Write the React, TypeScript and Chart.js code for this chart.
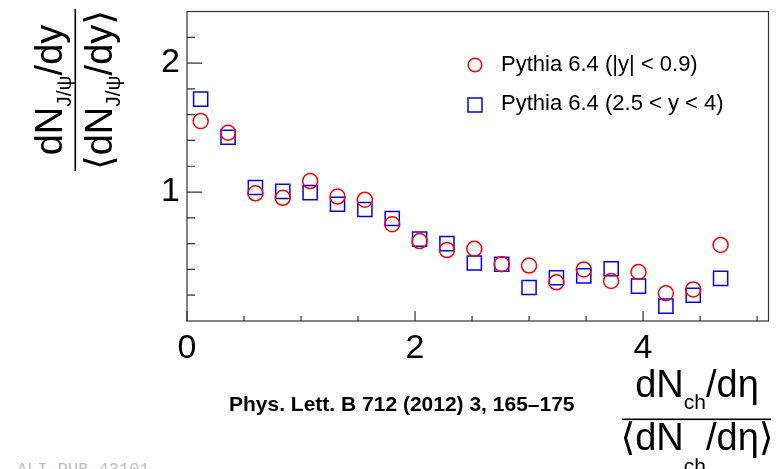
import { useEffect, useRef } from "react";
import { Chart, registerables } from "chart.js";

Chart.register(...registerables);

// Normalised charged-particle multiplicity bins, dNch/dη / <dNch/dη>
const multiplicityBins = [
  0.12, 0.36, 0.6, 0.84, 1.08, 1.32, 1.56, 1.8, 2.04, 2.28,
  2.52, 2.76, 3.0, 3.24, 3.48, 3.72, 3.96, 4.2, 4.44, 4.68,
];

// Relative J/ψ yield, Pythia 6.4 at mid-rapidity (|y| < 0.9)
const pythiaMidRapidity = [
  1.55, 1.46, 0.99, 0.955, 1.085, 0.965, 0.94, 0.75, 0.62, 0.55,
  0.56, 0.44, 0.43, 0.3, 0.4, 0.31, 0.38, 0.215, 0.245, 0.59,
];

// Relative J/ψ yield, Pythia 6.4 at forward rapidity (2.5 < y < 4)
const pythiaForwardRapidity = [
  1.72, 1.425, 1.035, 1.005, 0.995, 0.905, 0.865, 0.795, 0.635, 0.6,
  0.45, 0.44, 0.26, 0.335, 0.35, 0.405, 0.27, 0.115, 0.2, 0.33,
];

const seriesLabels = ["Pythia 6.4 (|y| < 0.9)", "Pythia 6.4 (2.5 < y < 4)"];

const xMajorTicks = [0, 2, 4];
const xMinorTicks = [0.5, 1, 1.5, 2.5, 3, 3.5, 4.5, 5];
const yMajorTicks = [1, 2];
const yMinorTicks = [0.2, 0.4, 0.6, 0.8, 1.2, 1.4, 1.6, 1.8, 2.2];

const citation = "Phys. Lett. B 712 (2012) 3, 165–175";
const figureId = "ALI-PUB-43101";

const FONT = '"Liberation Sans", Arial, Helvetica, "DejaVu Sans", sans-serif';
const RED = "#ff0000";
const BLUE = "#0000ff";
const FRAME = "#333333";

type Run = { text: string; size: number; shift: number };

function runsWidth(ctx: CanvasRenderingContext2D, runs: Run[]) {
  let w = 0;
  for (const r of runs) {
    ctx.font = `${r.size}px ${FONT}`;
    w += ctx.measureText(r.text).width;
  }
  return w;
}

function drawRuns(ctx: CanvasRenderingContext2D, runs: Run[], cx: number, baseline: number) {
  let x = cx - runsWidth(ctx, runs) / 2;
  ctx.textAlign = "left";
  ctx.textBaseline = "alphabetic";
  for (const r of runs) {
    ctx.font = `${r.size}px ${FONT}`;
    ctx.fillText(r.text, x, baseline + r.shift);
    x += ctx.measureText(r.text).width;
  }
}

const MAIN = 38;
const SUB = 21;

const yNumerator: Run[] = [
  { text: "dN", size: MAIN, shift: 0 },
  { text: "J/ψ", size: SUB, shift: 9 },
  { text: "/dy", size: MAIN, shift: 0 },
];
const yDenominator: Run[] = [
  { text: "⟨dN", size: MAIN, shift: 0 },
  { text: "J/ψ", size: SUB, shift: 8 },
  { text: "/dy⟩", size: MAIN, shift: 0 },
];
const xNumerator: Run[] = [
  { text: "dN", size: MAIN, shift: 0 },
  { text: "ch", size: SUB, shift: 12 },
  { text: "/dη", size: MAIN, shift: 0 },
];
const xDenominator: Run[] = [
  { text: "⟨dN", size: MAIN, shift: 0 },
  { text: "ch", size: SUB, shift: 23 },
  { text: "/dη⟩", size: MAIN, shift: 0 },
];

const framePlugin = {
  id: "rootFrame",
  afterDraw(chart: Chart) {
    const ctx = chart.ctx;
    const { left, right, top, bottom } = chart.chartArea;
    const xs = chart.scales.x;
    const ys = chart.scales.y;
    ctx.save();

    // frame and inward ticks
    ctx.strokeStyle = FRAME;
    ctx.lineWidth = 1.2;
    ctx.strokeRect(left, top, right - left, bottom - top);
    ctx.beginPath();
    for (const v of yMajorTicks) {
      const y = ys.getPixelForValue(v);
      ctx.moveTo(left, y);
      ctx.lineTo(left + 15, y);
    }
    for (const v of yMinorTicks) {
      const y = ys.getPixelForValue(v);
      ctx.moveTo(left, y);
      ctx.lineTo(left + 8, y);
    }
    for (const v of xMajorTicks) {
      const x = xs.getPixelForValue(v);
      ctx.moveTo(x, bottom);
      ctx.lineTo(x, bottom - 10);
    }
    for (const v of xMinorTicks) {
      const x = xs.getPixelForValue(v);
      ctx.moveTo(x, bottom);
      ctx.lineTo(x, bottom - 5);
    }
    ctx.stroke();

    // legend
    ctx.lineWidth = 1.5;
    ctx.strokeStyle = RED;
    ctx.beginPath();
    ctx.arc(475, 65, 6.8, 0, Math.PI * 2);
    ctx.stroke();
    ctx.strokeStyle = BLUE;
    ctx.strokeRect(468, 98, 14, 14);
    ctx.fillStyle = "#000";
    ctx.font = `22px ${FONT}`;
    ctx.textAlign = "left";
    ctx.textBaseline = "alphabetic";
    ctx.fillText(seriesLabels[0], 501, 70.5);
    ctx.fillText(seriesLabels[1], 501, 110);

    // y-axis title (rotated fraction)
    ctx.save();
    ctx.translate(0, 90);
    ctx.rotate(-Math.PI / 2);
    drawRuns(ctx, yNumerator, 0, 62);
    drawRuns(ctx, yDenominator, 0, 112);
    ctx.fillRect(-81, 74.5, 162, 1.6);
    ctx.restore();

    // x-axis title fraction
    drawRuns(ctx, xNumerator, 697, 397);
    ctx.fillRect(622, 418.5, 149, 1.6);
    drawRuns(ctx, xDenominator, 697, 450);

    // reference
    ctx.font = `bold 21px ${FONT}`;
    ctx.textAlign = "left";
    ctx.fillText(citation, 229, 411);

    ctx.fillStyle = "#bdbdbd";
    ctx.font = `17px "Liberation Mono", "DejaVu Sans Mono", monospace`;
    ctx.fillText(figureId, 17, 474);

    ctx.restore();
  },
};

export default function App() {
  const canvasRef = useRef<HTMLCanvasElement | null>(null);

  useEffect(() => {
    const canvas = canvasRef.current;
    if (!canvas) return;
    const tickFont = { family: FONT, size: 34 };
    const chart = new Chart(canvas, {
      type: "scatter",
      data: {
        datasets: [
          {
            label: seriesLabels[0],
            data: multiplicityBins.map((x, i) => ({ x, y: pythiaMidRapidity[i] })),
            pointStyle: "circle",
            pointRadius: 7.5,
            pointHoverRadius: 7.5,
            borderColor: RED,
            backgroundColor: "rgba(0,0,0,0)",
            borderWidth: 1.5,
          },
          {
            label: seriesLabels[1],
            data: multiplicityBins.map((x, i) => ({ x, y: pythiaForwardRapidity[i] })),
            pointStyle: "rect",
            pointRadius: 10,
            pointHoverRadius: 10,
            borderColor: BLUE,
            backgroundColor: "rgba(0,0,0,0)",
            borderWidth: 1.5,
          },
        ],
      },
      options: {
        responsive: false,
        animation: false,
        events: [],
        layout: { padding: { left: 0, top: 10, right: 8, bottom: 0 } },
        plugins: { legend: { display: false }, tooltip: { enabled: false } },
        scales: {
          x: {
            type: "linear",
            min: 0,
            max: 5.1,
            grid: { display: false, drawTicks: false },
            border: { display: false },
            afterBuildTicks: (s: any) => {
              s.ticks = xMajorTicks.map((v) => ({ value: v }));
            },
            afterFit: (s: any) => {
              s.height = 148;
              s.paddingLeft = 0;
              s.paddingRight = 0;
            },
            ticks: {
              font: tickFont,
              color: "#000",
              padding: 7,
              maxRotation: 0,
              autoSkip: false,
              callback: (v: any) => String(v),
            },
          },
          y: {
            type: "linear",
            min: 0,
            max: 2.4,
            grid: { display: false, drawTicks: false },
            border: { display: false },
            afterBuildTicks: (s: any) => {
              s.ticks = yMajorTicks.map((v) => ({ value: v }));
            },
            afterFit: (s: any) => {
              s.width = 187;
              s.paddingTop = 0;
              s.paddingBottom = 0;
            },
            ticks: {
              font: tickFont,
              color: "#000",
              padding: 7,
              autoSkip: false,
              callback: (v: any) => String(v),
            },
          },
        },
      },
      plugins: [framePlugin],
    });
    return () => chart.destroy();
  }, []);

  return (
    <div style={{ position: "absolute", left: 0, top: 0, width: 780, height: 469, background: "#fff" }}>
      <canvas ref={canvasRef} width={780} height={469} style={{ display: "block" }} />
    </div>
  );
}
